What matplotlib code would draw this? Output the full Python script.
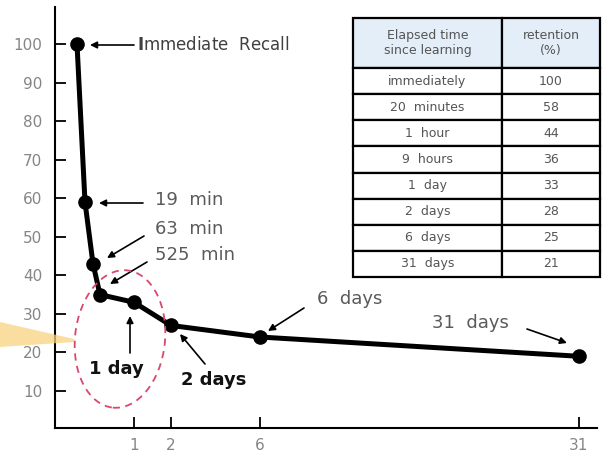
import numpy as np
import matplotlib
matplotlib.use("Agg")
import matplotlib.pyplot as plt
from matplotlib.patches import Ellipse, Polygon
from matplotlib.ticker import NullLocator

### Data ###

days = [0, 19 / 1440, 63 / 1440, 525 / 1440, 1, 2, 6, 31]
retention_plot = [100, 59, 43, 35, 33, 27, 24, 19]

x_ticks = [1, 2, 6, 31]
y_ticks = [10, 20, 30, 40, 50, 60, 70, 80, 90, 100]

table_times = ["immediately", "20  minutes", "1  hour", "9  hours",
               "1  day", "2  days", "6  days", "31  days"]
table_retention = ["100", "58", "44", "36", "33", "28", "25", "21"]

# hand drawn time axis: not linear, so a piecewise scale
KNOT_DAYS = [-0.6, 0, 19 / 1440, 63 / 1440, 525 / 1440, 1, 2, 6, 31, 32]
KNOT_POS = [55, 77, 85, 93, 100, 134, 171, 260, 579, 597]

W, H = 604, 454


def fwd(d):
    return np.interp(d, KNOT_DAYS, KNOT_POS)


def inv(p):
    return np.interp(p, KNOT_POS, KNOT_DAYS)


def fp(x, y):
    # figure pixel, measured from the top left
    return (x, H - y)


fig = plt.figure(figsize=(W / 100, H / 100), dpi=100)
ax = fig.add_axes([55 / W, 26 / H, 542 / W, 421 / H])

ax.set_xscale('function', functions=(fwd, inv))
ax.plot(days, retention_plot, color='black', lw=3.6, marker='o', ms=9.5,
        solid_capstyle='round', zorder=3)

ax.set_xlim(KNOT_DAYS[0], KNOT_DAYS[-1])
ax.set_ylim(0.4, 109.6)
ax.set_xticks(x_ticks)
ax.set_xticklabels([str(t) for t in x_ticks])
ax.xaxis.set_minor_locator(NullLocator())
ax.set_yticks(y_ticks)
ax.tick_params(axis='y', direction='in', length=8, width=1.3, pad=9,
               labelsize=11, labelcolor='#858585')
ax.tick_params(axis='x', direction='in', length=8, width=1.3, pad=7,
               labelsize=11, labelcolor='#858585')
for s in ['top', 'right']:
    ax.spines[s].set_visible(False)
for s in ['left', 'bottom']:
    ax.spines[s].set_linewidth(1.5)

### Annotations ###

grey = '#5a5a5a'
arrow = dict(arrowstyle='-|>', color='black', lw=1.2, mutation_scale=10,
             shrinkA=0, shrinkB=0)


def label(x, y, text, **kw):
    fig.text(x / W, 1 - y / H, text, va='center', ha='left', **kw)


def arr(tail, tip):
    ax.annotate('', xy=fp(*tip), xycoords='figure pixels',
                xytext=fp(*tail), textcoords='figure pixels',
                arrowprops=arrow)


label(137, 45, r"$\mathbf{I}$mmediate  Recall", fontsize=12, color='#404040')
arr((134, 45), (90, 45))

label(155, 200, "19  min", fontsize=13, color=grey)
arr((143, 203), (99, 203))

label(155, 229, "63  min", fontsize=13, color=grey)
arr((144, 236), (107, 258))

label(155, 255, "525  min", fontsize=13, color=grey)
arr((147, 262), (110, 284))

label(317, 299, "6  days", fontsize=13, color=grey)
arr((304, 308), (268, 331))

label(432, 323, "31  days", fontsize=13, color=grey)
arr((527, 329), (567, 343))

label(89, 369, "1 day", fontsize=13, color='#111111', fontweight='bold')
arr((130, 353), (130, 316))

label(181, 380, "2 days", fontsize=13, color='#111111', fontweight='bold')
arr((205, 364), (180, 334))

# dashed ellipse around the first day
ell = Ellipse((1.20, (H - 339) / 100), 0.90, 1.38, angle=-6,
              transform=fig.dpi_scale_trans, fill=False, edgecolor='#d9486a',
              lw=1.3, linestyle=(0, (4, 3)), zorder=5)
fig.patches.append(ell)

# yellow pointer coming in from the left
wedge_pts = [(0, 322), (0, 347), (74, 342), (74, 339)]
wedge = Polygon([(x / W, 1 - y / H) for x, y in wedge_pts], closed=True,
                transform=fig.transFigure, facecolor='#f7d37f', edgecolor='none',
                alpha=0.75, zorder=1)
fig.patches.append(wedge)

### Table ###

tax = fig.add_axes([353 / W, (H - 277) / H, 247 / W, 259 / H])
tax.axis('off')
cells = [[t, r] for t, r in zip(table_times, table_retention)]
tbl = tax.table(cellText=cells,
                colLabels=["Elapsed time\nsince learning", "retention\n(%)"],
                colWidths=[0.603, 0.397], cellLoc='center', bbox=[0, 0, 1, 1])
tbl.auto_set_font_size(False)
for (r, c), cell in tbl.get_celld().items():
    cell.set_linewidth(1.6)
    cell.set_edgecolor('black')
    cell.get_text().set_color('#555555')
    cell.get_text().set_fontsize(9)
    if r == 0:
        cell.set_height(1.92)
        cell.set_facecolor('#e3eef9')
    else:
        cell.set_height(1.0)

fig.savefig('out.png', dpi=100)
